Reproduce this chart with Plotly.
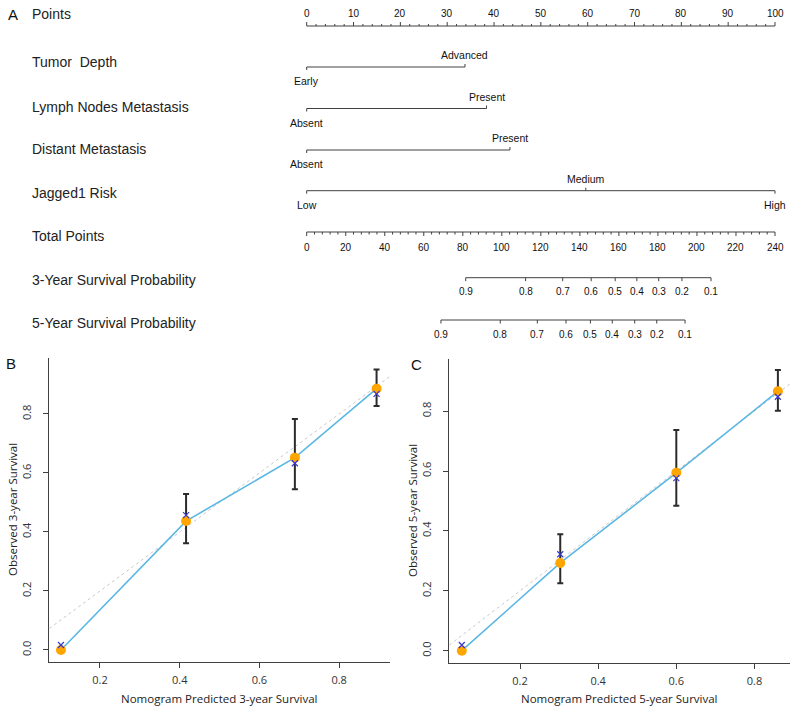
import plotly.graph_objects as go

# ---------------- Nomogram data ----------------
points_ticks = list(range(0, 101, 10))
points_minor = list(range(0, 101, 2))

row_names = ["Tumor\u00a0 Depth", "Lymph Nodes Metastasis", "Distant Metastasis", "Jagged1 Risk"]
tumor_levels = ["Early", "Advanced"]
tumor_points = [0, 33.8]
lymph_levels = ["Absent", "Present"]
lymph_points = [0, 38.4]
distant_levels = ["Absent", "Present"]
distant_points = [0, 43.4]
jagged_levels = ["Low", "Medium", "High"]
jagged_points = [0, 59.6, 100]

total_ticks = list(range(0, 241, 20))
total_minor = list(range(0, 241, 4))

surv_probs = ["0.9", "0.8", "0.7", "0.6", "0.5", "0.4", "0.3", "0.2", "0.1"]
surv3_total = [81.5, 112.2, 131.2, 145.8, 158.1, 169.2, 180.4, 192.3, 207.2]
surv5_total = [68.8, 99.2, 118.2, 132.9, 145.4, 156.6, 168.1, 179.4, 193.9]

# ---------------- Calibration data ----------------
pred3 = [0.102, 0.416, 0.689, 0.894]
obs3 = [0.0, 0.437, 0.652, 0.886]
corr3 = [0.017, 0.457, 0.633, 0.868]
lo3 = [0.0, 0.362, 0.545, 0.827]
hi3 = [0.0, 0.529, 0.783, 0.951]

pred5 = [0.051, 0.303, 0.600, 0.860]
obs5 = [0.0, 0.293, 0.594, 0.866]
corr5 = [0.019, 0.322, 0.576, 0.848]
lo5 = [0.0, 0.225, 0.484, 0.801]
hi5 = [0.0, 0.389, 0.737, 0.937]

W, H = 800, 711
FONT = "Liberation Sans, Arial, sans-serif"
OFONT = "Open Sans, Liberation Sans, sans-serif"
LC = "#404040"

# pixel layout of nomogram
X0_PX, X100_PX = 306.7, 775.0
ppp = (X100_PX - X0_PX) / 100.0
xr = [-X0_PX / ppp, (W - X0_PX) / ppp]
xr2 = [v * 2.4 for v in xr]

fig = go.Figure()
ann = []


def segs(xs_pairs, y_pairs):
    X, Y = [], []
    for (a, b), (c, d) in zip(xs_pairs, y_pairs):
        X += [a, b, None]
        Y += [c, d, None]
    return X, Y


def add_lines(X, Y, xa="x"):
    fig.add_trace(go.Scatter(x=X, y=Y, mode="lines", xaxis=xa, yaxis="y",
                             line=dict(color=LC, width=1), hoverinfo="skip",
                             showlegend=False))


def note(**kw):
    kw.setdefault("showarrow", False)
    kw.setdefault("xanchor", "center")
    kw.setdefault("yanchor", "middle")
    ann.append(kw)


TICKFONT = dict(family=FONT, size=10, color="#111")

# Points axis
PY = 26
X, Y = segs([(0, 100)], [(PY, PY)])
for v in points_minor:
    big = v in points_ticks
    X += [v, v, None]
    Y += [PY, PY - (4 if big else 2), None]
add_lines(X, Y)
for v in points_ticks:
    note(x=v, y=13.5, xref="x", yref="y", text=str(v), font=TICKFONT)

# category rows
rows = [
    (tumor_levels, tumor_points, 67),
    (lymph_levels, lymph_points, 108.5),
    (distant_levels, distant_points, 150),
    (jagged_levels, jagged_points, 190.7),
]
for (levels, pts, ly) in rows:
    X, Y = segs([(min(pts), max(pts))], [(ly, ly)])
    for i, (lev, p) in enumerate(zip(levels, pts)):
        below = (i % 2 == 0)
        X += [p, p, None]
        Y += [ly, ly + 3 if below else ly - 3, None]
        note(x=p, y=ly + 14 if below else ly - 12, xref="x", yref="y", text=lev,
             font=dict(family=FONT, size=10.5, color="#111"))
    add_lines(X, Y)

# Total points axis
TY = 232
X, Y = segs([(0, 240)], [(TY, TY)])
for v in total_minor:
    big = v in total_ticks
    X += [v, v, None]
    Y += [TY, TY + (4 if big else 2.5), None]
add_lines(X, Y, "x2")
for v in total_ticks:
    note(x=v, y=247, xref="x2", yref="y", text=str(v), font=TICKFONT)

# Survival axes
for tot, sy in [(surv3_total, 277.7), (surv5_total, 320)]:
    X, Y = segs([(min(tot), max(tot))], [(sy, sy)])
    for v in tot:
        X += [v, v, None]
        Y += [sy, sy + 3.5, None]
    add_lines(X, Y, "x2")
    for v, lab in zip(tot, surv_probs):
        note(x=v, y=sy + 14, xref="x2", yref="y", text=lab, font=TICKFONT)

# Row labels
row_labels = [("Points", 14), (row_names[0], 62), (row_names[1], 107),
              (row_names[2], 148.5), (row_names[3], 192.5), ("Total Points", 236),
              ("3-Year Survival Probability", 279.5), ("5-Year Survival Probability", 322.5)]
for txt, yy in row_labels:
    note(x=30 / W, y=yy, xref="paper", yref="y", text=txt, xanchor="left",
         font=dict(family=FONT, size=14, color="#222"))

# Panel letters
for txt, px, py in [("A", 13, 14), ("B", 11, 363), ("C", 416, 364)]:
    note(x=px / W, y=1 - py / H, xref="paper", yref="paper", text=txt,
         font=dict(family=FONT, size=15, color="#111"))

# ---------------- Calibration panels ----------------
panels = [
    dict(xa="x3", ya="y3", pred=pred3, obs=obs3, corr=corr3, lo=lo3, hi=hi3,
         xd=[49.3 / W, 390 / W], yd=[1 - 661.7 / H, 1 - 358.3 / H],
         xr=[0.0728, 0.9277], yr=[-0.0397, 0.9888],
         xt="Nomogram Predicted 3-year Survival", yt="Observed 3-year Survival", ytx=12),
    dict(xa="x4", ya="y4", pred=pred5, obs=obs5, corr=corr5, lo=lo5, hi=hi5,
         xd=[449.3 / W, 790 / W], yd=[1 - 662.7 / H, 1 - 359.3 / H],
         xr=[0.019, 0.891], yr=[-0.040, 0.973],
         xt="Nomogram Predicted 5-year Survival", yt="Observed 5-year Survival", ytx=412),
]

layout_axes = {}
for p in panels:
    xa, ya = p["xa"], p["ya"]
    # diagonal reference line across the axis range
    fig.add_trace(go.Scatter(x=p["xr"], y=p["xr"], mode="lines", xaxis=xa, yaxis=ya,
                             line=dict(color="#c8c8c8", width=1, dash="dot"),
                             hoverinfo="skip", showlegend=False))
    fig.add_trace(go.Scatter(x=p["pred"], y=p["obs"], mode="lines", xaxis=xa, yaxis=ya,
                             line=dict(color="#5bb7e3", width=1.6),
                             hoverinfo="skip", showlegend=False))
    fig.add_trace(go.Scatter(
        x=p["pred"], y=p["obs"], mode="markers", xaxis=xa, yaxis=ya,
        marker=dict(color="#ffa500", size=10),
        error_y=dict(type="data", symmetric=False,
                     array=[h - o for h, o in zip(p["hi"], p["obs"])],
                     arrayminus=[o - l for o, l in zip(p["obs"], p["lo"])],
                     color="#2b2b2b", thickness=2, width=3),
        hoverinfo="skip", showlegend=False))
    fig.add_trace(go.Scatter(x=p["pred"], y=p["corr"], mode="markers", xaxis=xa, yaxis=ya,
                             marker=dict(color="#3a3ad0", size=6, symbol="x-thin",
                                         line=dict(color="#3a3ad0", width=1.2)),
                             hoverinfo="skip", showlegend=False))
    n = xa[1:]
    layout_axes["xaxis" + n] = dict(
        domain=p["xd"], range=p["xr"], anchor=ya, showgrid=False, zeroline=False,
        showline=True, linecolor=LC, linewidth=1.2, ticks="outside", ticklen=5,
        tickcolor=LC, tickvals=[0.2, 0.4, 0.6, 0.8], tickformat=".1f",
        ticklabelstandoff=3,
        tickfont=dict(family=OFONT, size=11, color="#333"))
    layout_axes["yaxis" + n] = dict(
        domain=p["yd"], range=p["yr"], anchor=xa, showgrid=False, zeroline=False,
        showline=True, linecolor=LC, linewidth=1.2, ticks="outside", ticklen=5,
        tickcolor=LC, tickvals=[0.0, 0.2, 0.4, 0.6, 0.8], tickformat=".1f",
        tickangle=-90, ticklabelstandoff=8,
        tickfont=dict(family=OFONT, size=11, color="#333"))
    xmid = (p["xd"][0] + p["xd"][1]) / 2
    ymid = (p["yd"][0] + p["yd"][1]) / 2
    note(x=xmid, y=1 - 698.5 / H, xref="paper", yref="paper", text=p["xt"],
         font=dict(family=OFONT, size=11.5, color="#222"))
    note(x=p["ytx"] / W, y=ymid, xref="paper", yref="paper", text=p["yt"], textangle=-90,
         font=dict(family=OFONT, size=11.5, color="#222"))

fig.update_layout(
    width=W, height=H, margin=dict(l=0, r=0, t=0, b=0),
    paper_bgcolor="white", plot_bgcolor="white",
    xaxis=dict(domain=[0, 1], range=xr, visible=False),
    xaxis2=dict(domain=[0, 1], range=xr2, visible=False, overlaying="x"),
    yaxis=dict(domain=[0, 1], range=[H, 0], visible=False),
    annotations=ann,
    showlegend=False,
    **layout_axes,
)

fig.write_html("out.html", config={"displayModeBar": False},
               post_script="document.body.style.margin='0px';")
